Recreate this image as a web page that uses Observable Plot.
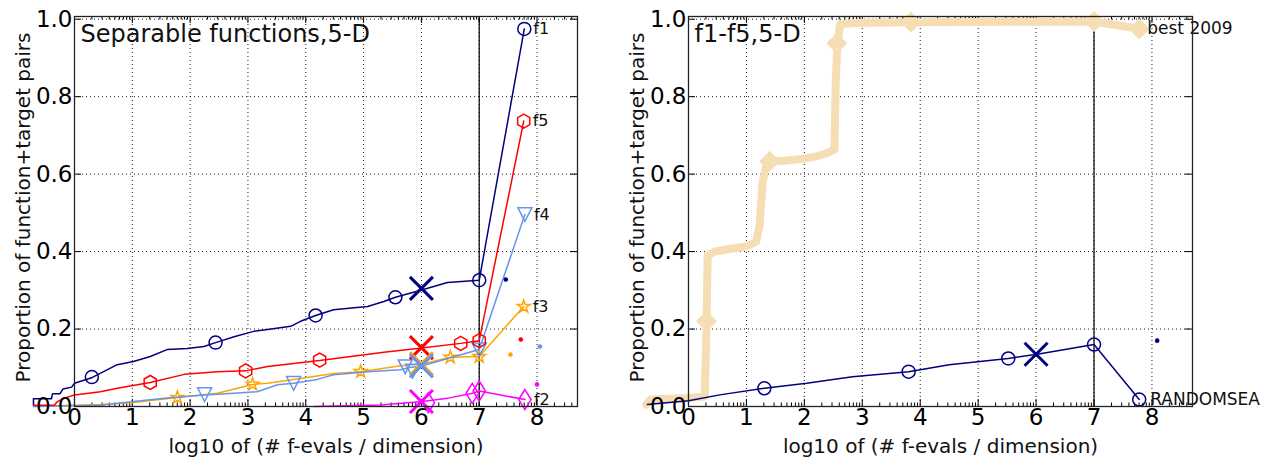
<!DOCTYPE html>
<html><head><meta charset="utf-8">
<script src="https://cdn.jsdelivr.net/npm/d3@7"></script>
<script src="https://cdn.jsdelivr.net/npm/@observablehq/plot@0.6"></script>
<style>
body{margin:0;background:#fff;}
#wrap{display:flex;width:1267px;height:460px;background:#fff;}
svg{font-family:"DejaVu Sans",sans-serif;}
</style></head><body><div id="wrap"></div>
<script>
// ---------- axes ----------
const xTicks = [0,1,2,3,4,5,6,7,8];
const yTicks = [0,0.2,0.4,0.6,0.8,1.0];
const xDomain = [0, 8.7];
const yDomain = [0, 1.007];
const xLabel = "log10 of (# f-evals / dimension)";
const yLabel = "Proportion of function+target pairs";
const leftTitle = "Separable functions,5-D";
const rightTitle = "f1-f5,5-D";

// ---------- left panel data ----------
const f1X = [-0.71,-0.71,-0.4,-0.38,-0.25,-0.2,-0.05,0,0.31,0.57,0.74,1.02,1.31,1.6,1.95,2.24,2.44,2.76,3.1,3.34,3.74,3.91,4.17,4.48,5.07,5.35,5.55,5.99,6.45,7.0,7.78];
const f1Y = [0.005,0.02,0.02,0.033,0.033,0.045,0.05,0.06,0.075,0.095,0.108,0.116,0.129,0.147,0.15,0.155,0.165,0.18,0.194,0.199,0.207,0.22,0.235,0.25,0.258,0.271,0.282,0.3,0.32,0.326,0.975];
const f1MX = [0.3,2.44,4.17,5.55,7.0,7.78];
const f1MY = [0.076,0.165,0.235,0.282,0.326,0.975];

const f5X = [-0.71,-0.35,-0.3,-0.2,0,0.45,0.74,1.31,1.9,2.47,2.96,3.34,3.79,4.24,4.78,5.35,5.93,6.68,7.0,7.77];
const f5Y = [0.003,0.003,0.012,0.02,0.03,0.038,0.047,0.062,0.083,0.09,0.092,0.103,0.111,0.119,0.129,0.14,0.15,0.163,0.17,0.737];
const f5MX = [1.31,2.96,4.24,6.68,7.0,7.77];
const f5MY = [0.062,0.092,0.12,0.163,0.17,0.737];

const f4X = [-0.71,0.45,1.02,1.6,2.25,2.76,3.16,3.51,3.79,4.2,4.48,5.07,5.64,5.78,6.02,7.0,7.79];
const f4Y = [0.0,0.003,0.013,0.022,0.03,0.034,0.038,0.056,0.06,0.07,0.082,0.09,0.095,0.1,0.105,0.147,0.496];
const f4MX = [2.25,3.79,5.72,5.85,7.0,7.79];
const f4MY = [0.031,0.06,0.103,0.092,0.147,0.496];

const f3X = [-0.71,0.45,1.02,1.78,2.47,3.08,3.34,3.91,4.48,4.95,5.64,6.02,6.5,7.0,7.77];
const f3Y = [0.0,0.005,0.01,0.023,0.034,0.057,0.06,0.072,0.085,0.09,0.105,0.11,0.127,0.129,0.258];
const f3MX = [1.78,3.08,4.95,6.5,7.0,7.77];
const f3MY = [0.023,0.057,0.09,0.127,0.129,0.258];

const f2X = [4.14,5.29,6.02,6.45,6.88,7.0,7.79];
const f2Y = [0.0,0.004,0.013,0.021,0.034,0.04,0.018];
const f2MX = [6.12,6.88,7.0,7.79];
const f2MY = [0.01,0.034,0.04,0.018];

// big crosses at 10^6 evaluations, small dots beyond
const leftCrossX = [6,6,6,6,6];
const leftCrossY = [0.305,0.152,0.11,0.105,0.013];
const leftDotX = [7.46,7.72,7.54,8.05,8.0];
const leftDotY = [0.328,0.173,0.134,0.155,0.057];
const leftNames = ["f1","f5","f3","f4","f2"];
const leftColors = ["#000080","#ff0000","#ffa500","#6495ed","#ff00ff"];

// ---------- right panel data ----------
const bestX = [-0.73,-0.65,0.0,0.28,0.31,0.33,0.45,0.75,1.0,1.17,1.23,1.28,1.36,1.5,1.69,2.0,2.21,2.4,2.52,2.54,2.57,2.62,2.84,3.84,7.0,7.78];
const bestY = [0.005,0.018,0.022,0.026,0.2,0.39,0.4,0.408,0.413,0.426,0.47,0.58,0.632,0.633,0.635,0.64,0.646,0.655,0.664,0.83,0.94,0.987,0.99,0.992,0.994,0.975];
const bestMX = [0.31,1.4,2.56,3.84,7.0,7.78];
const bestMY = [0.22,0.633,0.938,0.992,0.994,0.975];

const rsX = [-0.71,0,0.54,1.31,2.04,2.83,3.8,4.5,5.52,6.02,7.0,7.78];
const rsY = [0.005,0.015,0.03,0.047,0.06,0.077,0.09,0.108,0.124,0.135,0.16,0.018];
const rsMX = [1.31,3.8,5.52,7.0,7.78];
const rsMY = [0.047,0.09,0.124,0.16,0.018];
const rsCrossX = [6], rsCrossY = [0.135];
const rsDotX = [8.09], rsDotY = [0.17];

// ---------- symbols ----------
function sym(fn){ return {draw(ctx,size){ fn(ctx, Math.sqrt(size/Math.PI)); }}; }
function poly(ctx, pts){ ctx.moveTo(pts[0][0],pts[0][1]); for(let i=1;i<pts.length;i++) ctx.lineTo(pts[i][0],pts[i][1]); ctx.closePath(); }
const hexSym = sym((c,r)=>{ const p=[]; for(let i=0;i<6;i++){const a=(-90+60*i)*Math.PI/180; p.push([r*Math.cos(a), r*Math.sin(a)]);} poly(c,p); });
const triDown = sym((c,r)=>poly(c,[[0,r],[-r,-r*0.95],[r,-r*0.95]]));
const thinDiamond = sym((c,r)=>poly(c,[[0,-r],[0.62*r,0],[0,r],[-0.62*r,0]]));
const diamondD = sym((c,r)=>poly(c,[[0,-r],[r,0],[0,r],[-r,0]]));
const timesSym = sym((c,r)=>{ c.moveTo(-r,-r); c.lineTo(r,r); c.moveTo(r,-r); c.lineTo(-r,r); });

const zip = (xs,ys)=>xs.map((x,i)=>({x, y: ys[i]}));

// minor ticks (log10 of 2..9 in each decade)
const minorTicks = [];
for (let k=-1;k<=8;k++) for (let m=2;m<=9;m++){ const v=k+Math.log10(m); if (v>0 && v<8.7) minorTicks.push(v); }

function frameMarks(){
  const yTop = yDomain[1];
  const majLenY = 7/387, minLenY = 3.5/387, majLenX = 7/57.9;
  return [
    Plot.gridX(xTicks.filter(d=>d>0), {stroke:"#000", strokeOpacity:0.9, strokeDasharray:"1,3", strokeWidth:1}),
    Plot.gridY(yTicks.filter(d=>d>0), {stroke:"#000", strokeOpacity:0.9, strokeDasharray:"1,3", strokeWidth:1}),
    Plot.ruleX(xTicks, {x:d=>d, y1:0, y2:majLenY, stroke:"#000"}),
    Plot.ruleX(xTicks, {x:d=>d, y1:yTop-majLenY, y2:yTop, stroke:"#000"}),
    Plot.ruleX(minorTicks, {x:d=>d, y1:0, y2:minLenY, stroke:"#000"}),
    Plot.ruleX(minorTicks, {x:d=>d, y1:yTop-minLenY, y2:yTop, stroke:"#000"}),
    Plot.ruleY(yTicks, {y:d=>d, x1:0, x2:majLenX, stroke:"#000"}),
    Plot.ruleY(yTicks, {y:d=>d, x1:xDomain[1]-majLenX, x2:xDomain[1], stroke:"#000"}),
    Plot.ruleX([7], {y1:0, y2:yTop, stroke:"#000", strokeWidth:1.2})
  ];
}
function axisMarks(){
  return [
    Plot.frame({stroke:"#222", strokeWidth:1.3}),
    Plot.axisX(xTicks, {tickSize:0, tickPadding:2, fontSize:23, tickFormat:d=>String(d), label:null, fill:"#000"}),
    Plot.axisY(yTicks, {tickSize:0, tickPadding:2, fontSize:23, tickFormat:d3.format(".1f"), label:null, fill:"#000"}),
    Plot.text([xLabel], {frameAnchor:"bottom", lineAnchor:"middle", textAnchor:"middle", dy:40, fontSize:20, fill:"#111"}),
    Plot.text([yLabel], {frameAnchor:"left", rotate:-90, textAnchor:"middle", lineAnchor:"middle", dx:-51, dy:-4, fontSize:20, fill:"#111"})
  ];
}
function series(xs, ys, mx, my, color, symbol, r){
  return [
    Plot.line(zip(xs,ys), {x:"x", y:"y", stroke:color, strokeWidth:1.5, strokeLinejoin:"round", strokeLinecap:"round"}),
    Plot.dot(zip(mx,my), {x:"x", y:"y", symbol, r, stroke:color, fill:"none", strokeWidth:1.5})
  ];
}

const common = {
  height:460, marginTop:16, marginBottom:54,
  x:{domain:xDomain, axis:null},
  y:{domain:yDomain, axis:null},
  style:{background:"#fff", fontFamily:"'DejaVu Sans', sans-serif", overflow:"visible"}
};

const leftLabelData = [
  {x:7.78, y:0.975, t:"f1"}, {x:7.77, y:0.737, t:"f5"}, {x:7.79, y:0.496, t:"f4"},
  {x:7.77, y:0.258, t:"f3"}, {x:7.79, y:0.018, t:"f2"}
];

const left = Plot.plot({
  ...common, width:620, marginLeft:74, marginRight:43,
  marks:[
    ...frameMarks(),
    ...series(f2X,f2Y,f2MX,f2MY,"#ff00ff",thinDiamond,10),
    ...series(f3X,f3Y,f3MX,f3MY,"#ffa500","star",4),
    ...series(f4X,f4Y,f4MX,f4MY,"#6495ed",triDown,7),
    ...series(f5X,f5Y,f5MX,f5MY,"#ff0000",hexSym,7),
    ...series(f1X,f1Y,f1MX,f1MY,"#000080","circle",6.5),
    Plot.dot(leftCrossX.map((x,i)=>({x, y:leftCrossY[i], c:leftColors[i]})), {x:"x", y:"y", symbol:timesSym, r:11.5, stroke:"c", strokeWidth:3}),
    Plot.dot(leftDotX.map((x,i)=>({x, y:leftDotY[i], c:leftColors[i]})), {x:"x", y:"y", r:2.3, fill:"c", stroke:"none"}),
    Plot.text(leftLabelData, {x:"x", y:"y", text:"t", dx:9, textAnchor:"start", fontSize:16, fill:"#111"}),
    ...axisMarks(),
    Plot.text([leftTitle], {frameAnchor:"top-left", dx:6, dy:8, textAnchor:"start", lineAnchor:"top", fontSize:24, fill:"#111"})
  ]
});

const right = Plot.plot({
  ...common, width:647, marginLeft:68, marginRight:75,
  marks:[
    ...frameMarks(),
    Plot.line(zip(bestX,bestY), {x:"x", y:"y", stroke:"#f5deb3", strokeWidth:8, strokeLinejoin:"round"}),
    Plot.dot(zip(bestMX,bestMY), {x:"x", y:"y", symbol:diamondD, r:10.5, fill:"#f5deb3", stroke:"none"}),
    ...series(rsX,rsY,rsMX,rsMY,"#000080","circle",6.5),
    Plot.dot(zip(rsCrossX,rsCrossY), {x:"x", y:"y", symbol:timesSym, r:11.5, stroke:"#000080", strokeWidth:3}),
    Plot.dot(zip(rsDotX,rsDotY), {x:"x", y:"y", r:2.3, fill:"#000080"}),
    Plot.text([{x:7.78, y:0.975, t:"best 2009"}], {x:"x", y:"y", text:"t", dx:8, textAnchor:"start", fontSize:17, fill:"#111"}),
    Plot.text([{x:7.78, y:0.018, t:"RANDOMSEA"}], {x:"x", y:"y", text:"t", dx:11, textAnchor:"start", fontSize:17, fill:"#111"}),
    ...axisMarks(),
    Plot.text([rightTitle], {frameAnchor:"top-left", dx:6, dy:8, textAnchor:"start", lineAnchor:"top", fontSize:24, fill:"#111"})
  ]
});

const wrap = document.getElementById("wrap");
wrap.appendChild(left);
wrap.appendChild(right);
</script></body></html>
